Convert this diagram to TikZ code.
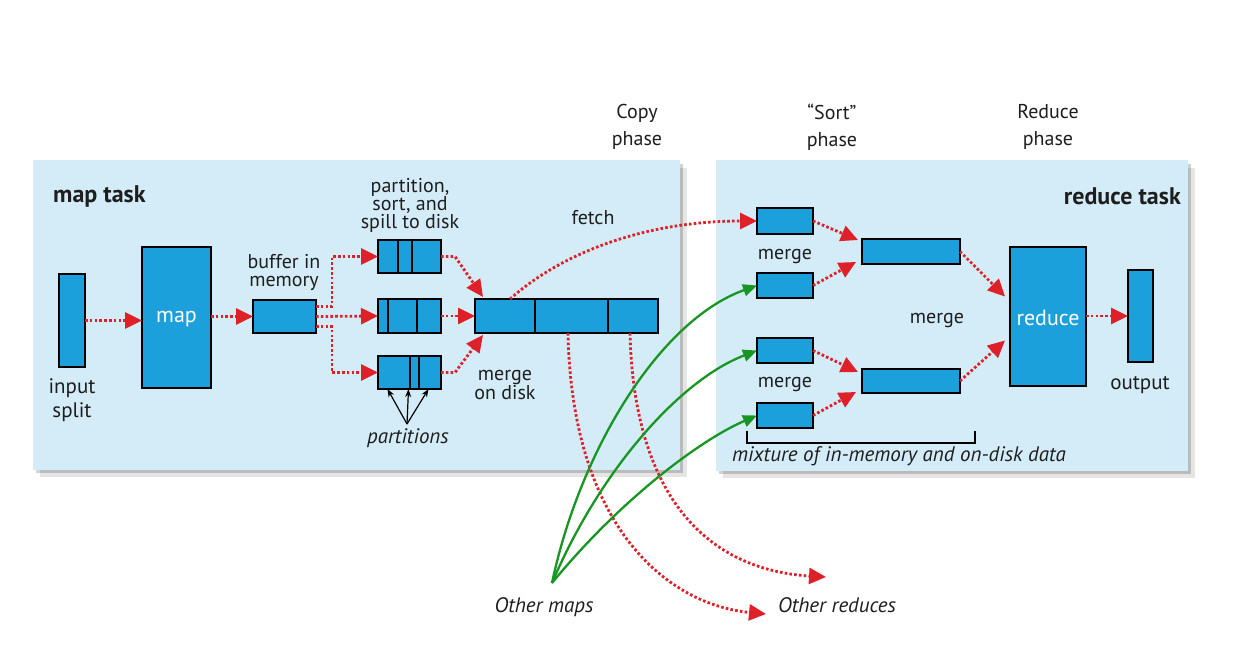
\documentclass[tikz,border=0pt]{standalone}
\usepackage{fontspec}
\setmainfont{PT Sans}
\usetikzlibrary{arrows.meta,calc}
\definecolor{panelblue}{RGB}{212,236,248}
\definecolor{boxblue}{RGB}{28,160,220}
\definecolor{arrred}{RGB}{222,32,40}
\definecolor{arrgreen}{RGB}{24,150,36}
\definecolor{textgray}{RGB}{30,30,30}
\begin{document}
\begin{tikzpicture}[x=1pt,y=-1pt,
  panel/.style={fill=panelblue,draw=none},
  box/.style={draw=black,line width=2.6pt,fill=boxblue,inner sep=0pt,outer sep=0pt},
  divider/.style={draw=black,line width=2.4pt},
  rarr/.style={draw=arrred,line width=2.8pt,dash pattern=on 2.6pt off 2.2pt,-{Triangle[length=17pt,width=16pt]}},
  garr/.style={draw=arrgreen,line width=2.3pt,-{Triangle[length=14pt,width=12pt]}},
  karr/.style={draw=black,line width=1.2pt,-{Stealth[length=8pt,width=6pt]}},
  lbl/.style={font=\fontsize{20}{18}\selectfont,text=textgray,align=center,inner sep=0pt},
  ilbl/.style={font=\fontsize{21}{20}\selectfont\itshape,text=textgray,align=center,inner sep=0pt},
  hd/.style={font=\fontsize{20}{27}\selectfont,text=textgray,align=center,inner sep=0pt},
  ttl/.style={font=\fontsize{24}{26}\selectfont\bfseries,text=textgray,inner sep=0pt},
  wtxt/.style={font=\fontsize{22}{24}\selectfont,text=white,inner sep=0pt}
]
\useasboundingbox[fill=white] (0,0) rectangle (1256,648);

% panels with shadows
\fill[black,opacity=0.10] (40,168) rectangle (687,477);
\fill[black,opacity=0.18] (36,164) rectangle (683,473);
\fill[panel] (33,160) rectangle (680,470);
\fill[black,opacity=0.10] (723,168) rectangle (1195,478);
\fill[black,opacity=0.18] (719,164) rectangle (1191,474);
\fill[panel] (716,160) rectangle (1188,471);

% headers
\node[hd] (hcopy) at (637,127) {Copy\\phase};
\node[hd] (hsort) at (832,127) {``Sort''\\phase};
\node[hd] (hred) at (1048,127) {Reduce\\phase};
\node[ttl,anchor=west] (tmap) at (53,196) {map task};
\node[ttl,anchor=east] (tred) at (1181,196) {reduce task};

% map side boxes
\node[box,minimum width=26pt,minimum height=93pt] (split) at (72,320.5) {};
\node[box,minimum width=69pt,minimum height=141pt] (map) at (176.5,317.5) {};
\node[wtxt] (tmapin) at (176.5,319) {map};
\node[box,minimum width=63pt,minimum height=33pt] (buf) at (284.5,316.5) {};
\node[box,minimum width=63pt,minimum height=33pt] (sp1) at (409.5,256.5) {};
\node[box,minimum width=63pt,minimum height=34pt] (sp2) at (409.5,316) {};
\node[box,minimum width=63pt,minimum height=33pt] (sp3) at (409.5,372.5) {};
\node[box,minimum width=183pt,minimum height=34pt] (mdisk) at (566.5,316) {};
\draw[divider] (398,240) -- (398,273) (412,240) -- (412,273);
\draw[divider] (388,299) -- (388,333) (417,299) -- (417,333);
\draw[divider] (410,356) -- (410,389) (419,356) -- (419,389);
\draw[divider] (535,299) -- (535,333) (608,299) -- (608,333);

% map side labels
\node[lbl,font=\fontsize{21}{24}\selectfont] (tsplit) at (72,400) {input\\split};
\node[lbl] (tbuf) at (284,272) {buffer in\\memory};
\node[lbl] (tpss) at (410,205) {partition,\\sort, and\\spill to disk};
\node[lbl] (tfetch) at (593,218) {fetch};
\node[lbl] (tmod) at (505,385) {merge\\on disk};
\node[ilbl] (tparts) at (408,438) {partitions};

% reduce side boxes
\node[box,minimum width=56pt,minimum height=26pt] (m1) at (785,221) {};
\node[box,minimum width=56pt,minimum height=25pt] (m2) at (785,285.5) {};
\node[box,minimum width=56pt,minimum height=25pt] (m3) at (785,350.5) {};
\node[box,minimum width=56pt,minimum height=25pt] (m4) at (785,415.5) {};
\node[box,minimum width=98pt,minimum height=25pt] (bigU) at (911,251.5) {};
\node[box,minimum width=98pt,minimum height=24pt] (bigL) at (911,381) {};
\node[box,minimum width=76pt,minimum height=139pt] (red) at (1048,316.5) {};
\node[wtxt] (tredin) at (1048,318) {reduce};
\node[box,minimum width=25pt,minimum height=92pt] (out) at (1140.5,316) {};

% reduce side labels
\node[lbl] (tm1) at (785,256) {merge};
\node[lbl] (tm2) at (785,384) {merge};
\node[lbl] (tm3) at (937,320) {merge};
\node[lbl,font=\fontsize{21}{20}\selectfont] (tout) at (1140,385) {output};
\node[ilbl] (tmix) at (899,456) {mixture of in-memory and on-disk data};
\draw[black,line width=1.2pt] (747,431) -- (747,443) -- (975,443) -- (975,431);

% bottom labels
\node[ilbl] (tomaps) at (544,607) {Other maps};
\node[ilbl] (tored) at (837,605) {Other reduces};
\coordinate (omsrc) at (552,583);
\coordinate (ore1) at (766,614);
\coordinate (ore2) at (826,577);
\coordinate (pconv) at (407,424);

% map-side arrows
\draw[rarr] (split.east) -- (split.east -| map.west);
\draw[rarr] (map.east |- buf.west) -- (buf.west);
\draw[rarr] ($(buf.east)+(0,-10)$) -- ++(16,0) |- (sp1.west);
\draw[rarr] (buf.east) -- (sp2.west);
\draw[rarr] ($(buf.east)+(0,10)$) -- ++(16,0) |- (sp3.west);
\draw[rarr] (sp1.east) -- ++(14,0) -- ($(mdisk.north west)+(8,-2)$);
\draw[rarr] (sp2.east) -- (mdisk.west);
\draw[rarr] (sp3.east) -- ++(14,0) -- ($(mdisk.south west)+(8,2)$);
\draw[karr] (pconv) -- ($(sp3.south)+(-22,0)$);
\draw[karr] (pconv) -- ($(sp3.south)+(-1,0)$);
\draw[karr] (pconv) -- ($(sp3.south)+(19,0)$);

% fetch and other reduces
\draw[rarr] ($(mdisk.north west)+(35,0)$) .. controls (565,250) and (650,221) .. (m1.west);
\draw[rarr] ($(mdisk.south west)+(93,0)$) .. controls (572,530) and (670,605) .. (ore1);
\draw[rarr] ($(mdisk.south west)+(155,0)$) .. controls (634,500) and (710,570) .. (ore2);

% green arrows from other maps
\draw[garr] (omsrc) .. controls (580,450) and (660,320) .. (m2.west);
\draw[garr] (omsrc) .. controls (600,470) and (680,380) .. (m3.west);
\draw[garr] (omsrc) .. controls (620,500) and (700,440) .. (m4.west);

% reduce-side arrows
\draw[rarr] (m1.east) -- ($(bigU.north west)+(-4,1)$);
\draw[rarr] (m2.east) -- ($(bigU.south west)+(-6,-2)$);
\draw[rarr] (m3.east) -- ($(bigL.north west)+(-4,3)$);
\draw[rarr] (m4.east) -- ($(bigL.south west)+(-6,-1)$);
\draw[rarr] (bigU.east) -- ($(red.west)+(-5,-20)$);
\draw[rarr] (bigL.east) -- ($(red.west)+(-5,24)$);
\draw[rarr] (red.east |- out.west) -- (out.west);
\end{tikzpicture}
\end{document}
